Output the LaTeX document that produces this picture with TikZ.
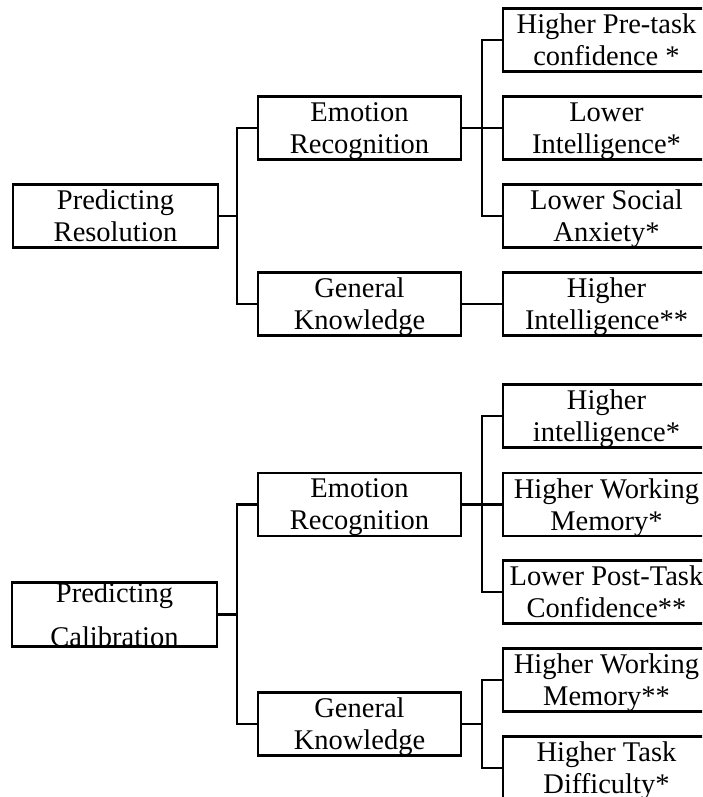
\documentclass[tikz,border=0pt]{standalone}
\usepackage{fontspec}
\setmainfont{Liberation Serif}
% two centred lines stacked in a vbox, so the node is centred on the span
% from the top of the first line to the baseline of the second
\newcommand\twolines[2]{\vbox{\halign{\hfil##\hfil\cr#1\cr#2\cr}}}
\begin{document}
\begin{tikzpicture}[x=1pt,y=-1pt,
  line width=2.6pt,
  treebox/.style={draw, rectangle, inner sep=0pt, text depth=0pt,
    minimum height=63pt, font=\fontsize{28.5}{32}\selectfont},
  rootbox/.style={treebox, minimum width=205pt},
  midbox/.style={treebox, minimum width=203pt},
  leafbox/.style={treebox, minimum width=207pt},
  widespaced/.style={font=\fontsize{28.5}{44}\selectfont}]
\useasboundingbox (0,0) rectangle (702,797);
\clip (0,0) rectangle (702,797);

% ---------- resolution tree ----------
\node[rootbox] (PR) at (115.5,216) {\twolines{Predicting}{Resolution}};
\node[midbox] (ER1) at (359.5,128) {\twolines{Emotion}{Recognition}};
\node[midbox] (GK1) at (359.5,304) {\twolines{General}{Knowledge}};
\node[leafbox] (R1) at (606.5,40)  {\twolines{Higher Pre-task}{confidence *}};
\node[leafbox] (R2) at (606.5,128) {\twolines{Lower}{Intelligence*}};
\node[leafbox] (R3) at (606.5,216) {\twolines{Lower Social}{Anxiety*}};
\node[leafbox] (R4) at (606.5,304) {\twolines{Higher}{Intelligence**}};

\coordinate (ja) at (237,216);
\coordinate (jb) at (482,128);
\draw (PR.east) -- (ja) |- (ER1.west);
\draw (ja) |- (GK1.west);
\draw (ER1.east) -- (jb) |- (R1.west);
\draw (jb) -- (R2.west);
\draw (jb) |- (R3.west);
\draw (GK1.east) -- (R4.west);

% ---------- calibration tree ----------
\node[rootbox, widespaced] (PC) at (114.5,614.5) {\twolines{Predicting}{Calibration}};
\node[midbox] (ER2) at (359.5,504.5) {\twolines{Emotion}{Recognition}};
\node[midbox] (GK2) at (359.5,724) {\twolines{General}{Knowledge}};
\node[leafbox] (R5) at (606.5,416)   {\twolines{Higher}{intelligence*}};
\node[leafbox] (R6) at (606.5,504.5) {\twolines{Higher Working}{Memory*}};
\node[leafbox] (R7) at (606.5,592)   {\twolines{Lower Post-Task}{Confidence**}};
\node[leafbox] (R8) at (606.5,680)   {\twolines{Higher Working}{Memory**}};
\node[leafbox] (R9) at (606.5,768)   {\twolines{Higher Task}{Difficulty*}};

\coordinate (jc) at (ja |- PC.east);
\coordinate (jd) at (jb |- ER2.east);
\coordinate (je) at (jb |- GK2.east);
\draw (PC.east) -- (jc) |- (ER2.west);
\draw (jc) |- (GK2.west);
\draw (ER2.east) -- (jd) |- (R5.west);
\draw (jd) -- (R6.west);
\draw (jd) |- (R7.west);
\draw (GK2.east) -- (je) |- (R8.west);
\draw (je) |- (R9.west);
\end{tikzpicture}
\end{document}
